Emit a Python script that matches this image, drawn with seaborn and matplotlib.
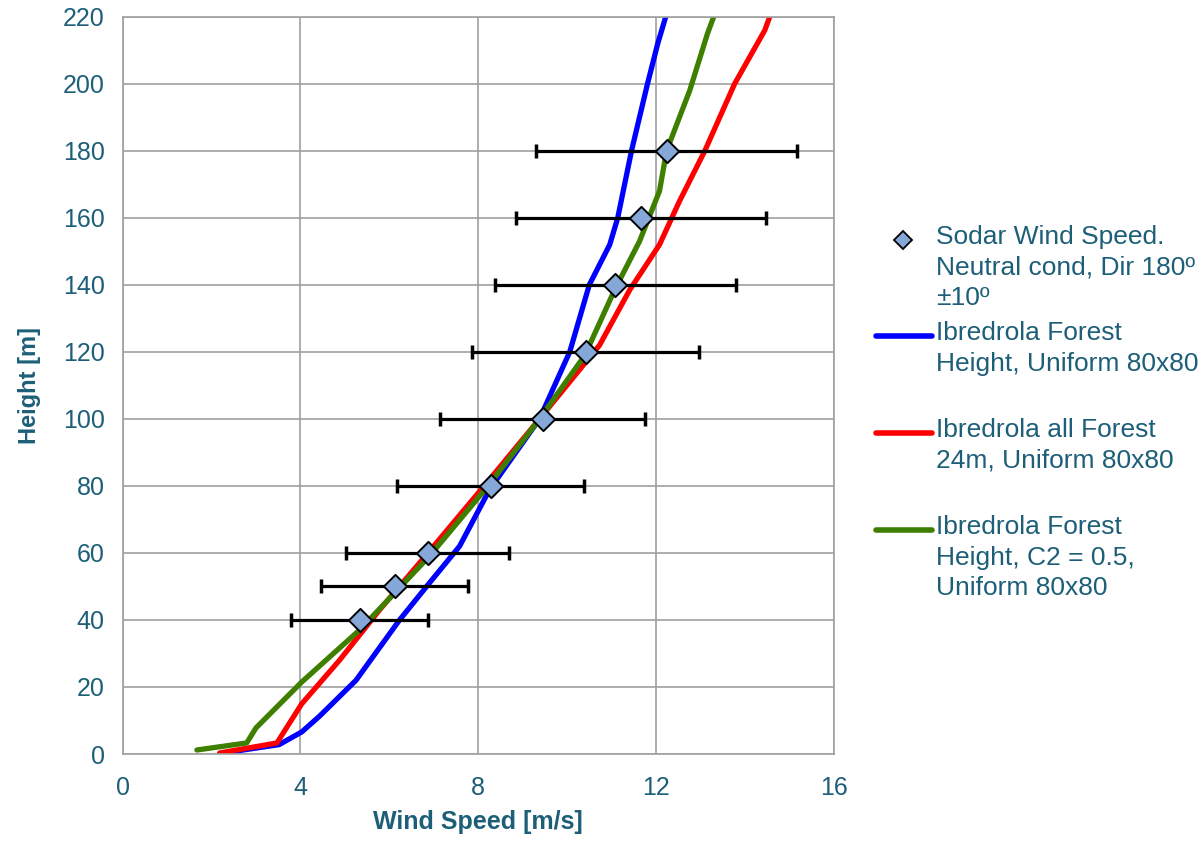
import matplotlib
matplotlib.use("Agg")
import matplotlib.pyplot as plt
import seaborn as sns
import numpy as np

sns.set_style("white")
plt.rcParams['font.family'] = ['Liberation Sans', 'DejaVu Sans']

TEXT = '#1d5f78'

# sodar measurements
sodar_height = [40, 50, 60, 80, 100, 120, 140, 160, 180]
sodar_speed = [5.33, 6.12, 6.86, 8.28, 9.45, 10.42, 11.09, 11.66, 12.24]
sodar_err = [1.54, 1.66, 1.84, 2.10, 2.31, 2.55, 2.71, 2.81, 2.93]

# model profiles
blue_speed = [2.36, 3.52, 4.03, 4.43, 5.25, 6.23, 6.90, 7.58, 8.26, 9.38, 10.06, 10.50, 10.96, 11.14, 11.45, 11.81, 12.04, 12.22]
blue_height = [0.5, 2.8, 6.6, 11.3, 22, 40, 51, 62, 79, 100, 120, 140, 152, 160, 180, 200, 212, 220]

red_speed = [2.18, 3.47, 4.03, 4.88, 5.78, 6.87, 8.26, 9.38, 10.73, 11.41, 12.08, 12.53, 13.10, 13.77, 14.45, 14.56]
red_height = [0.3, 3.3, 15, 28, 43, 60, 82, 100, 122, 138.5, 152, 165, 180, 200, 216, 220]

green_speed = [1.67, 2.79, 3.00, 4.03, 5.33, 6.90, 8.26, 9.38, 10.40, 11.07, 11.63, 12.08, 12.24, 12.76, 13.16, 13.30]
green_height = [1.2, 3.3, 7.8, 21.5, 37, 59, 80.6, 100, 119, 138.5, 153, 168, 180, 198, 215, 220]

labels = [
    'Sodar Wind Speed.\nNeutral cond, Dir 180º\n±10º',
    'Ibredrola Forest\nHeight, Uniform 80x80',
    'Ibredrola all Forest\n24m, Uniform 80x80',
    'Ibredrola Forest\nHeight, C2 = 0.5,\nUniform 80x80',
]
colors = [None, '#0000ff', '#ff0000', '#3f7f00']

fig = plt.figure(figsize=(12.03, 8.42), dpi=100)
ax = fig.add_axes([0.102, 0.1045, 0.591, 0.8755])

sns.lineplot(x=blue_speed, y=blue_height, sort=False, estimator=None, color=colors[1], lw=3.8, ax=ax)
sns.lineplot(x=red_speed, y=red_height, sort=False, estimator=None, color=colors[2], lw=3.8, ax=ax)
sns.lineplot(x=green_speed, y=green_height, sort=False, estimator=None, color=colors[3], lw=3.8, ax=ax)

ax.errorbar(sodar_speed, sodar_height, xerr=sodar_err, fmt='none', ecolor='black',
            elinewidth=2.3, capsize=5, capthick=2.5, zorder=4)
sns.scatterplot(x=sodar_speed, y=sodar_height, marker='D', s=140, color='#86a8d8',
                edgecolor='black', linewidth=1.4, zorder=5, ax=ax)

ax.set_xlim(0, 16)
ax.set_ylim(0, 220)
ax.set_xticks(np.arange(0, 17, 4))
ax.set_yticks(np.arange(0, 221, 20))
ax.grid(True, color='#a0a0a0', lw=1.2)
for s in ax.spines.values():
    s.set_color('#a0a0a0')
    s.set_linewidth(1.2)
ax.tick_params(axis='both', colors='#a0a0a0', labelcolor=TEXT, labelsize=18,
               length=7, width=1.2, direction='out')
ax.tick_params(axis='x', pad=9)
ax.tick_params(axis='y', pad=6)

ax.set_xlabel('Wind Speed [m/s]', color=TEXT, fontsize=18, fontweight='bold', labelpad=7)
ax.set_ylabel('Height [m]', color=TEXT, fontsize=17, fontweight='bold', labelpad=16)

# legend, handles aligned with the first text line as in the original
px_w, px_h = 1203, 842
first_line_y = [240, 336, 433, 530]
for lab, col, yy in zip(labels, colors, first_line_y):
    fy = 1 - yy / px_h
    if col is None:
        fig.add_artist(plt.Line2D([903 / px_w], [fy], ls='none', marker='D', markersize=9,
                                  markerfacecolor='#86a8d8', markeredgecolor='black',
                                  markeredgewidth=1.3, transform=fig.transFigure))
    else:
        fig.add_artist(plt.Line2D([876 / px_w, 932 / px_w], [fy, fy], color=col, lw=4,
                                  solid_capstyle='round', transform=fig.transFigure))
    fig.text(936 / px_w, fy + 15 / px_h, lab, color=TEXT, fontsize=19, va='top',
             ha='left', linespacing=1.35)

fig.savefig('out.png', dpi=100)
